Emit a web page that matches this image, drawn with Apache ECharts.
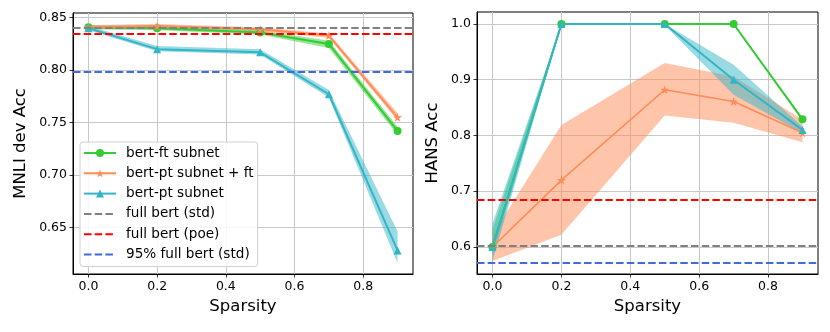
<!DOCTYPE html>
<html>
<head>
<meta charset="utf-8">
<script src="https://cdn.jsdelivr.net/npm/echarts@6/dist/echarts.min.js"></script>
<style>
  html, body { margin: 0; padding: 0; background: #fff; }
  #chart-container { width: 830px; height: 332px; }
</style>
</head>
<body>
<div id="chart-container"></div>
<script>
var dom = document.getElementById('chart-container');
var myChart = echarts.init(dom, null, { renderer: 'canvas' });

// sparsity levels
var sparsity = [0.0, 0.2, 0.5, 0.7, 0.9];
var xTicks = [0.0, 0.2, 0.4, 0.6, 0.8];
var mnliTicks = [0.65, 0.70, 0.75, 0.80, 0.85];
var hansTicks = [0.6, 0.7, 0.8, 0.9, 1.0];

// MNLI dev acc (left)
var mnliFt = [0.841, 0.840, 0.836, 0.825, 0.742];
var mnliFtLo = [0.839, 0.838, 0.834, 0.821, 0.738];
var mnliFtHi = [0.843, 0.842, 0.838, 0.828, 0.746];
var mnliPtFt = [0.841, 0.842, 0.839, 0.833, 0.755];
var mnliPtFtLo = [0.839, 0.840, 0.837, 0.831, 0.752];
var mnliPtFtHi = [0.843, 0.844, 0.841, 0.835, 0.759];
var mnliPt = [0.840, 0.820, 0.817, 0.777, 0.628];
var mnliPtLo = [0.838, 0.818, 0.815, 0.774, 0.616];
var mnliPtHi = [0.842, 0.823, 0.820, 0.781, 0.646];
var mnliRef = [0.8405, 0.8345, 0.7985]; // std, poe, 95% std

// HANS acc (right)
var hansFt = [0.600, 1.0, 1.0, 1.0, 0.829];
var hansFtLo = [0.585, 0.998, 0.998, 0.998, 0.826];
var hansFtHi = [0.632, 1.0, 1.0, 1.0, 0.832];
var hansPtFt = [0.600, 0.720, 0.882, 0.861, 0.805];
var hansPtFtLo = [0.575, 0.622, 0.836, 0.823, 0.788];
var hansPtFtHi = [0.622, 0.819, 0.930, 0.906, 0.828];
var hansPt = [0.600, 1.0, 1.0, 0.900, 0.810];
var hansPtLo = [0.575, 0.998, 0.998, 0.873, 0.804];
var hansPtHi = [0.642, 1.0, 1.0, 0.927, 0.816];
var hansRef = [0.602, 0.6845, 0.5715];

var names = ['bert-ft subnet', 'bert-pt subnet + ft', 'bert-pt subnet',
  'full bert (std)', 'full bert (poe)', '95% full bert (std)'];
var colors = ['#33cc33', '#ff8c55', '#33b5c8'];
var refColors = ['#808080', '#ff0000', '#4169e1'];
var star = 'path://M50,0 L61,35 L98,35 L68,57 L79,91 L50,70 L21,91 L32,57 L2,35 L39,35 Z';
var symbols = ['circle', star, 'triangle'];
var FONT = 'DejaVu Sans';
var DASH = [7.5, 3.2];

function pts(ys) {
  return sparsity.map(function (x, i) { return [x, ys[i]]; });
}

function band(ax, lo, hi, color) {
  return {
    type: 'custom',
    xAxisIndex: ax, yAxisIndex: ax,
    silent: true,
    data: [[sparsity[0], lo[0]]],
    renderItem: function (params, api) {
      var p = [];
      for (var i = 0; i < sparsity.length; i++) p.push(api.coord([sparsity[i], hi[i]]));
      for (var j = sparsity.length - 1; j >= 0; j--) p.push(api.coord([sparsity[j], lo[j]]));
      return {
        type: 'polygon',
        shape: { points: p },
        style: { fill: color, opacity: 0.5 }
      };
    }
  };
}

function line(ax, k, ys, width) {
  return {
    name: names[k],
    type: 'line',
    xAxisIndex: ax, yAxisIndex: ax,
    data: pts(ys),
    symbol: symbols[k],
    symbolSize: k === 1 ? 9 : 8,
    showSymbol: true,
    lineStyle: { color: colors[k], width: width },
    itemStyle: { color: colors[k] },
    emphasis: { disabled: true }
  };
}

function refLine(ax, k, val) {
  return {
    name: names[3 + k],
    type: 'line',
    xAxisIndex: ax, yAxisIndex: ax,
    data: [],
    symbol: 'none',
    lineStyle: { color: refColors[k], width: 2, type: DASH },
    itemStyle: { color: refColors[k] },
    markLine: {
      silent: true,
      symbol: 'none',
      precision: 5,
      label: { show: false },
      lineStyle: { color: refColors[k], width: 2, type: DASH },
      data: [{ yAxis: val }]
    }
  };
}

function xAxisCfg(grid) {
  return {
    type: 'value', gridIndex: grid,
    min: -0.045, max: 0.945,
    name: 'Sparsity', nameLocation: 'middle', nameGap: 24,
    nameTextStyle: { fontFamily: FONT, fontSize: 16.5, color: '#000' },
    axisLine: { show: true, onZero: false, lineStyle: { color: '#000', width: 1 } },
    axisTick: { show: true, length: 3.5, customValues: xTicks, lineStyle: { color: '#000', width: 0.8 } },
    axisLabel: {
      customValues: xTicks, margin: 6,
      fontFamily: FONT, fontSize: 12.5, color: '#000',
      formatter: function (v) { return v.toFixed(1); }
    },
    splitLine: { show: true, lineStyle: { color: '#c8c8c8', width: 1 } }
  };
}

function yAxisCfg(grid, name, min, max, ticks, digits, gap) {
  return {
    type: 'value', gridIndex: grid,
    min: min, max: max,
    name: name, nameLocation: 'middle', nameGap: gap,
    nameTextStyle: { fontFamily: FONT, fontSize: 16.5, color: '#000' },
    axisLine: { show: true, onZero: false, lineStyle: { color: '#000', width: 1 } },
    axisTick: { show: true, length: 3.5, customValues: ticks, lineStyle: { color: '#000', width: 0.8 } },
    axisLabel: {
      customValues: ticks, margin: 6,
      fontFamily: FONT, fontSize: 12.5, color: '#000',
      formatter: function (v) { return v.toFixed(digits); }
    },
    splitLine: { show: true, lineStyle: { color: '#c8c8c8', width: 1 } }
  };
}

var series = [];
// reference dashed lines
for (var k = 0; k < 3; k++) series.push(refLine(0, k, mnliRef[k]));
for (var k2 = 0; k2 < 3; k2++) series.push(refLine(1, k2, hansRef[k2]));
// left
series.push(band(0, mnliFtLo, mnliFtHi, colors[0]));
series.push(line(0, 0, mnliFt, 2));
series.push(band(0, mnliPtFtLo, mnliPtFtHi, colors[1]));
series.push(line(0, 1, mnliPtFt, 2));
series.push(band(0, mnliPtLo, mnliPtHi, colors[2]));
series.push(line(0, 2, mnliPt, 2));
// right
series.push(band(1, hansFtLo, hansFtHi, colors[0]));
series.push(line(1, 0, hansFt, 2));
series.push(band(1, hansPtFtLo, hansPtFtHi, colors[1]));
series.push(line(1, 1, hansPtFt, 1.6));
series.push(band(1, hansPtLo, hansPtHi, colors[2]));
series.push(line(1, 2, hansPt, 2));

var legendData = names.map(function (n, i) {
  if (i < 3) return { name: n };
  return { name: n, itemStyle: { opacity: 0 } };
});

var option = {
  animation: false,
  backgroundColor: '#fff',
  grid: [
    { left: 73, top: 13, width: 340, height: 261, show: true, borderColor: '#000', borderWidth: 1 },
    { left: 477, top: 12, width: 341, height: 262, show: true, borderColor: '#000', borderWidth: 1 }
  ],
  xAxis: [xAxisCfg(0), xAxisCfg(1)],
  yAxis: [
    yAxisCfg(0, 'MNLI dev Acc', 0.6055, 0.8545, mnliTicks, 2, 44),
    yAxisCfg(1, 'HANS Acc', 0.5515, 1.0215, hansTicks, 1, 36)
  ],
  legend: {
    data: legendData,
    orient: 'vertical',
    left: 80, top: 142,
    itemWidth: 32, itemHeight: 10, itemGap: 6.3,
    padding: [4, 4, 5, 3],
    backgroundColor: 'rgba(255,255,255,0.85)',
    borderColor: '#d0d0d0', borderWidth: 1, borderRadius: 3,
    selectedMode: false,
    textStyle: { fontFamily: FONT, fontSize: 13.6, lineHeight: 14, color: '#000', padding: [0, 0, 0, 5] }
  },
  series: series
};

myChart.setOption(option);
window.addEventListener('resize', myChart.resize);
</script>
</body>
</html>
